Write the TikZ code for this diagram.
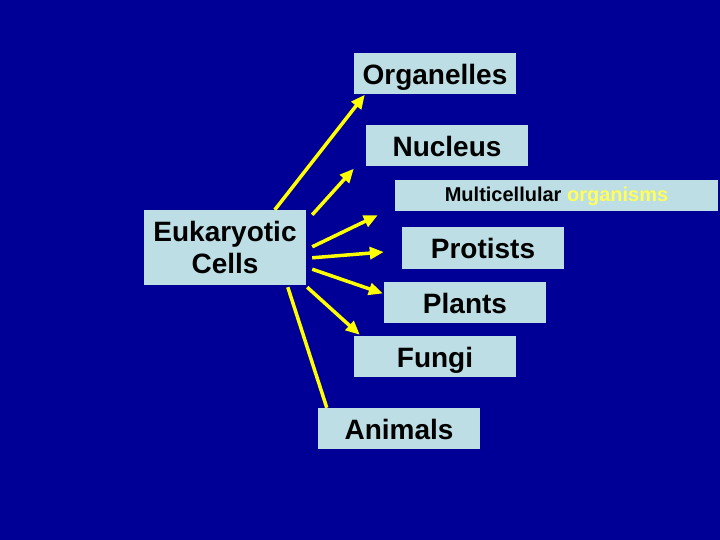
\documentclass[tikz,border=0pt]{standalone}
\usepackage{fontspec}
\setmainfont{Liberation Sans}
\usetikzlibrary{arrows.meta,calc}
\definecolor{bgblue}{RGB}{0,0,150}
\definecolor{boxblue}{RGB}{188,222,228}
\definecolor{arrowyellow}{RGB}{255,255,0}
\definecolor{txtyellow}{RGB}{255,255,90}
\begin{document}
\begin{tikzpicture}[x=1pt,y=-1pt,
  box/.style={fill=boxblue, draw=none, minimum width=162pt, minimum height=41pt, inner sep=0pt,
    font=\fontsize{28}{32}\selectfont\bfseries, align=center, text height=21pt, text depth=0pt},
  conn/.style={draw=arrowyellow, line width=3.5pt, -{Triangle[length=14pt,width=12pt]}},
  plainconn/.style={draw=arrowyellow, line width=3.5pt}]
\fill[bgblue] (0,0) rectangle (720,540);
\useasboundingbox (0,0) rectangle (720,540);

\node[box] (org) at (435,74) {Organelles};
\node[box] (nuc) at (447,146) {Nucleus};
\node[box, minimum width=323pt, minimum height=31pt, text height=13pt, font=\fontsize{20}{24}\selectfont\bfseries] (multi) at (556.5,195.5)
  {Multicellular \textcolor{txtyellow}{organisms}};
\node[box, minimum height=75pt, text height=, text depth=, font=\fontsize{28}{32}\selectfont\bfseries] (euk) at (225,247.5) {Eukaryotic\\Cells};
\node[box] (prot) at (483,248) {Protists};
\node[box] (plant) at (465,302.5) {Plants};
\node[box] (fungi) at (435,356.5) {Fungi};
\node[box] (anim) at (399,428.5) {Animals};

% connector end points
\coordinate (s1) at ($(euk.north west)+(131,0)$);
\coordinate (e1) at ($(org.south west)+(11,0)$);
\coordinate (s2) at ($(euk.north east)+(6,5)$);
\coordinate (e2) at ($(nuc.south west)+(-12,2)$);
\coordinate (s3) at ($(euk.north east)+(6,37)$);
\coordinate (e3) at ($(multi.south west)+(-17,4)$);
\coordinate (s4) at ($(euk.north east)+(6,48)$);
\coordinate (e4) at ($(prot.west)+(-18,4)$);
\coordinate (s5) at ($(euk.south east)+(6,-16)$);
\coordinate (e5) at ($(plant.west)+(-1,-9)$);
\coordinate (s6) at ($(euk.south east)+(1,2)$);
\coordinate (e6) at ($(fungi.north west)+(6,-1)$);
\coordinate (s7) at ($(euk.south west)+(144,2)$);
\coordinate (e7) at ($(anim.north west)+(9,0)$);

\draw[conn] (s1) -- (e1);
\draw[conn] (s2) -- (e2);
\draw[conn] (s3) -- (e3);
\draw[conn] (s4) -- (e4);
\draw[conn] (s5) -- (e5);
\draw[conn] (s6) -- (e6);
\draw[plainconn] (s7) -- (e7);
\end{tikzpicture}
\end{document}
